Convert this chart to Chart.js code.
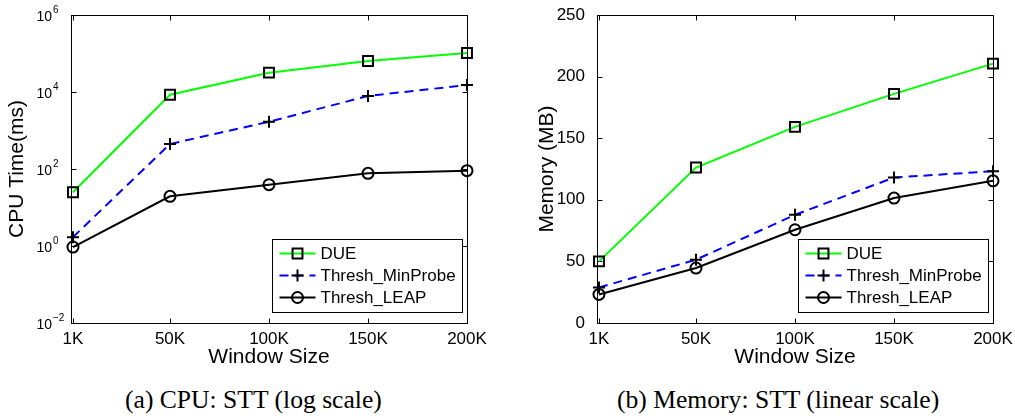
<!DOCTYPE html>
<html>
<head>
<meta charset="utf-8">
<script src="https://cdn.jsdelivr.net/npm/chart.js@4.4.1/dist/chart.umd.min.js"></script>
<style>
  html, body { margin: 0; padding: 0; background: #fff; }
  body { width: 1015px; height: 420px; position: relative; overflow: hidden; }
  canvas { position: absolute; top: 0; }
  #cpuChart { left: 0; }
  #memChart { left: 507px; }
  .caption {
    position: absolute; top: 385px; color: #000; white-space: pre;
    font: 25.6px 'Liberation Serif', 'Times New Roman', serif; line-height: 30px;
  }
</style>
</head>
<body>
<canvas id="cpuChart" width="507" height="372"></canvas>
<canvas id="memChart" width="508" height="372"></canvas>
<div class="caption" style="left:125px">(a) CPU: STT (log scale)</div>
<div class="caption" style="left:617px">(b) Memory: STT (linear scale)</div>
<script>
// Window sizes in thousands of items, with their axis labels
const windowSizes = [1, 50, 100, 150, 200];
const windowLabels = ['1K', '50K', '100K', '150K', '200K'];
const seriesNames = ['DUE', 'Thresh_MinProbe', 'Thresh_LEAP'];

// CPU time (ms), log scale
const cpuDue = [25, 8500, 31800, 63700, 102800];
const cpuMinProbe = [1.7, 446, 1690, 7870, 15200];
const cpuLeap = [0.94, 19.5, 39.2, 77, 90.6];
const cpuTicks = [1e-2, 1, 1e2, 1e4, 1e6];

// Memory (MB), linear scale
const memDue = [50, 126.2, 159.2, 186, 210.5];
const memMinProbe = [28.8, 51.4, 87.8, 118.1, 123.2];
const memLeap = [23.2, 44.6, 75.7, 101.4, 115.4];
const memTicks = [0, 50, 100, 150, 200, 250];

const SANS = "'Liberation Sans', Arial, Helvetica, sans-serif";

const seriesStyles = [
  { color: '#00ff00', dash: [], marker: 'rect', radius: 7 },
  { color: '#0000ff', dash: [9, 6], marker: 'cross', radius: 6 },
  { color: '#000000', dash: [], marker: 'circle', radius: 5.5 }
];

function buildDatasets(lists) {
  return lists.map((vals, i) => ({
    label: seriesNames[i],
    data: windowSizes.map((x, j) => ({ x: x, y: vals[j] })),
    borderColor: seriesStyles[i].color,
    borderWidth: 2,
    borderDash: seriesStyles[i].dash,
    pointStyle: seriesStyles[i].marker,
    pointRadius: seriesStyles[i].radius,
    pointBorderColor: '#000',
    pointBackgroundColor: 'rgba(0,0,0,0)',
    pointBorderWidth: 2,
    tension: 0,
    fill: false,
    clip: false
  }));
}

// Box around the plot area with inward tick marks on all four sides
const framePlugin = {
  id: 'frame',
  beforeDatasetsDraw(chart) {
    const { ctx, chartArea: a, scales } = chart;
    const tl = 5;
    ctx.save();
    ctx.strokeStyle = '#000';
    ctx.lineWidth = 1;
    const L = Math.round(a.left) + 0.5, R = Math.round(a.right) + 0.5;
    const T = Math.round(a.top) + 0.5, B = Math.round(a.bottom) + 0.5;
    ctx.strokeRect(L, T, R - L, B - T);
    ctx.beginPath();
    scales.x.ticks.forEach(t => {
      const px = Math.round(scales.x.getPixelForValue(t.value)) + 0.5;
      ctx.moveTo(px, B); ctx.lineTo(px, B - tl);
      ctx.moveTo(px, T); ctx.lineTo(px, T + tl);
    });
    scales.y.ticks.forEach(t => {
      const py = Math.round(scales.y.getPixelForValue(t.value)) + 0.5;
      ctx.moveTo(L, py); ctx.lineTo(L + tl, py);
      ctx.moveTo(R, py); ctx.lineTo(R - tl, py);
    });
    ctx.stroke();
    ctx.restore();
  }
};

// Power-of-ten labels for the logarithmic axis
const powerLabelPlugin = {
  id: 'powerLabels',
  afterDraw(chart) {
    const { ctx, chartArea: a, scales: { y } } = chart;
    ctx.save();
    ctx.fillStyle = '#000';
    cpuTicks.forEach(v => {
      const py = y.getPixelForValue(v);
      const exp = Math.round(Math.log10(v));
      ctx.font = '14px ' + SANS;
      ctx.textAlign = 'right';
      ctx.textBaseline = 'middle';
      ctx.fillText('10', a.left - 19, py + 2);
      ctx.font = '10px ' + SANS;
      ctx.textAlign = 'left';
      ctx.fillText(exp < 0 ? '\u2212' + (-exp) : String(exp), a.left - 18, py - 5);
    });
    ctx.restore();
  }
};

function drawMarker(ctx, style, x, y, r) {
  ctx.beginPath();
  if (style === 'rect') {
    const s = r * Math.SQRT1_2;
    ctx.rect(x - s, y - s, 2 * s, 2 * s);
  } else if (style === 'cross') {
    ctx.moveTo(x - r, y); ctx.lineTo(x + r, y);
    ctx.moveTo(x, y - r); ctx.lineTo(x, y + r);
  } else {
    ctx.arc(x, y, r, 0, Math.PI * 2);
  }
  ctx.stroke();
}

// Legend box in the lower-right corner of the plot area
const legendBoxPlugin = {
  id: 'legendBox',
  afterDatasetsDraw(chart) {
    const { ctx, chartArea: a } = chart;
    const w = 190, h = 73;
    const x0 = Math.round(a.right - 5 - w) + 0.5;
    const y0 = Math.round(a.bottom - 11 - h) + 0.5;
    ctx.save();
    ctx.fillStyle = '#fff';
    ctx.fillRect(x0, y0, w, h);
    ctx.strokeStyle = '#000';
    ctx.lineWidth = 1;
    ctx.strokeRect(x0, y0, w, h);
    chart.data.datasets.forEach((ds, i) => {
      const yy = y0 + 14 + i * 22;
      ctx.strokeStyle = ds.borderColor;
      ctx.lineWidth = 2;
      ctx.setLineDash(ds.borderDash || []);
      ctx.beginPath();
      ctx.moveTo(x0 + 7, yy); ctx.lineTo(x0 + 43, yy);
      ctx.stroke();
      ctx.setLineDash([]);
      ctx.strokeStyle = '#000';
      drawMarker(ctx, ds.pointStyle, x0 + 25, yy, ds.pointRadius);
      ctx.fillStyle = '#000';
      ctx.font = '17px ' + SANS;
      ctx.textAlign = 'left';
      ctx.textBaseline = 'middle';
      ctx.fillText(ds.label, x0 + 48, yy + 1);
    });
    ctx.restore();
  }
};

function xAxis() {
  return {
    type: 'linear', min: 0, max: 200,
    afterBuildTicks(s) { s.ticks = windowSizes.map(v => ({ value: v })); },
    afterFit(s) { s.height = 49; },
    grid: { display: false },
    border: { display: false },
    ticks: {
      callback: (v, i) => windowLabels[i],
      font: { family: SANS, size: 17 }, color: '#000',
      padding: -2, maxRotation: 0, autoSkip: false
    },
    title: {
      display: true, text: 'Window Size', color: '#000',
      font: { family: SANS, size: 21 }, padding: { top: 0, bottom: 2 }
    }
  };
}

function commonOptions(pad, yScale) {
  return {
    responsive: false,
    animation: false,
    devicePixelRatio: 1,
    layout: { padding: pad },
    plugins: { legend: { display: false }, tooltip: { enabled: false } },
    scales: { x: xAxis(), y: yScale }
  };
}

new Chart(document.getElementById('cpuChart'), {
  type: 'line',
  data: { datasets: buildDatasets([cpuDue, cpuMinProbe, cpuLeap]) },
  options: commonOptions({ left: 0, top: 15, right: 40, bottom: 0 }, {
    type: 'logarithmic', min: 1e-2, max: 1e6,
    afterBuildTicks(s) { s.ticks = cpuTicks.map(v => ({ value: v })); },
    afterFit(s) { s.width = 71; },
    grid: { display: false },
    border: { display: false },
    ticks: { display: false },
    title: {
      display: true, text: 'CPU Time(ms)', color: '#000',
      font: { family: SANS, size: 21 }, padding: { top: 5 }
    }
  }),
  plugins: [framePlugin, powerLabelPlugin, legendBoxPlugin]
});

new Chart(document.getElementById('memChart'), {
  type: 'line',
  data: { datasets: buildDatasets([memDue, memMinProbe, memLeap]) },
  options: commonOptions({ left: 24, top: 15, right: 22, bottom: 0 }, {
    type: 'linear', min: 0, max: 250,
    afterBuildTicks(s) { s.ticks = memTicks.map(v => ({ value: v })); },
    afterFit(s) { s.width = 66; },
    grid: { display: false },
    border: { display: false },
    ticks: { font: { family: SANS, size: 17 }, color: '#000', padding: 4 },
    title: {
      display: true, text: 'Memory (MB)', color: '#000',
      font: { family: SANS, size: 21 }, padding: { top: 4 }
    }
  }),
  plugins: [framePlugin, legendBoxPlugin]
});
</script>
</body>
</html>
